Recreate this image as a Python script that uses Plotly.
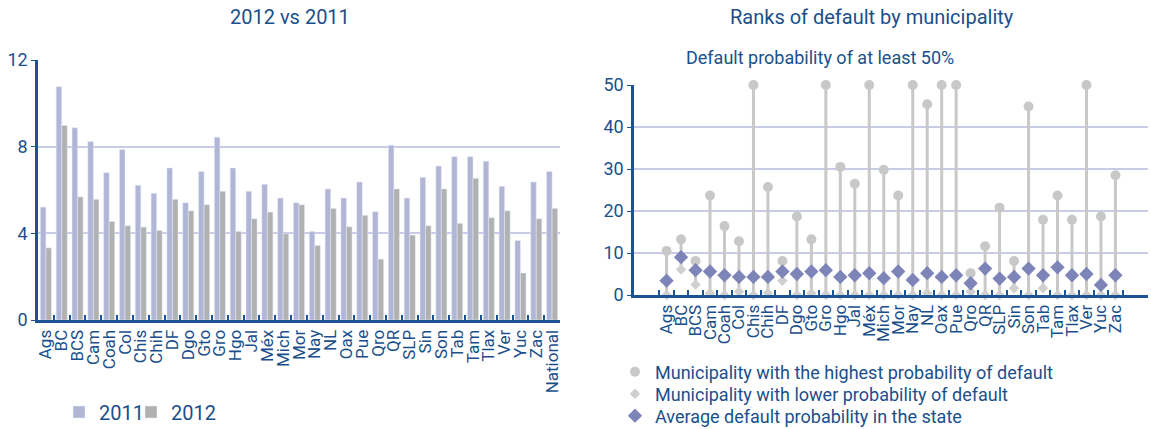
import plotly.graph_objects as go

# left chart: 2012 vs 2011
states_l = ["Ags", "BC", "BCS", "Cam", "Coah", "Col", "Chis", "Chih", "DF", "Dgo", "Gto",
            "Gro", "Hgo", "Jal", "Méx", "Mich", "Mor", "Nay", "NL", "Oax", "Pue", "Qro",
            "QR", "SLP", "Sin", "Son", "Tab", "Tam", "Tlax", "Ver", "Yuc", "Zac", "National"]
v2011 = [5.21, 10.77, 8.87, 8.24, 6.80, 7.87, 6.22, 5.85, 7.02, 5.41, 6.85,
         8.44, 7.02, 5.94, 6.26, 5.63, 5.41, 4.09, 6.05, 5.63, 6.37, 5.00,
         8.07, 5.63, 6.59, 7.11, 7.54, 7.54, 7.33, 6.17, 3.67, 6.37, 6.85]
v2012 = [3.33, 8.98, 5.68, 5.57, 4.55, 4.35, 4.29, 4.13, 5.57, 5.04, 5.32,
         5.94, 4.09, 4.67, 4.98, 3.98, 5.32, 3.44, 5.15, 4.30, 4.83, 2.81,
         6.05, 3.92, 4.35, 6.05, 4.46, 6.54, 4.72, 5.04, 2.17, 4.67, 5.15]
left_ticks = [0, 4, 8, 12]

# right chart: ranks of default
states_r = states_l[:-1]
high = [10.5, 13.25, 8.1, 23.7, 16.4, 12.8, 50, 25.7, 8.1, 18.7, 13.25,
        50, 30.5, 26.5, 50, 29.8, 23.7, 50, 45.4, 50, 50, 5.2,
        11.6, 20.8, 8.1, 44.9, 17.9, 23.7, 17.9, 50, 18.7, 28.5]
low = [0, 6.1, 2.5, 0.4, 0, 0.8, 0, 0.4, 3.4, 0, 0.4,
       0, 0, 0, 0, 0, 0, 0, 0.4, 0, 0, 0.8,
       0, 0, 1.6, 0, 1.6, 0, 0, 0, 0, 0]
avg = [3.4, 9.0, 5.9, 5.6, 4.7, 4.3, 4.3, 4.3, 5.6, 5.0, 5.6,
       5.9, 4.3, 4.7, 5.2, 4.0, 5.6, 3.6, 5.2, 4.3, 4.7, 2.8,
       6.3, 3.9, 4.3, 6.3, 4.7, 6.6, 4.7, 5.0, 2.4, 4.7]
right_ticks = [0, 10, 20, 30, 40, 50]

blue = "#1a4f8b"
axis_blue = "#1d5296"
grid = "#c9cce6"
font = "Roboto"
W, H = 1151, 429

fig = go.Figure()

fig.add_trace(go.Bar(x=states_l, y=v2011, name="2011", marker_color="#b1b5d6",
                     xaxis="x", yaxis="y", legend="legend"))
fig.add_trace(go.Bar(x=states_l, y=v2012, name="2012", marker_color="#b1b1b1",
                     xaxis="x", yaxis="y", legend="legend5"))

# range lines low -> high
lx, ly = [], []
for s, lo, hi in zip(states_r, low, high):
    lx += [s, s, None]
    ly += [lo, hi, None]
fig.add_trace(go.Scatter(x=lx, y=ly, mode="lines", line=dict(color="#c8c8c8", width=3),
                         hoverinfo="none", showlegend=False, xaxis="x2", yaxis="y2"))
fig.add_trace(go.Scatter(x=states_r, y=high, mode="markers", cliponaxis=False,
                         name="Municipality with the highest probability of default",
                         marker=dict(symbol="circle", size=10, color="#c8c8c8"),
                         xaxis="x2", yaxis="y2", legend="legend2"))
fig.add_trace(go.Scatter(x=states_r, y=low, mode="markers", cliponaxis=False,
                         name="Municipality with lower probability of default",
                         marker=dict(symbol="diamond", size=8, color="#cfcfcf"),
                         xaxis="x2", yaxis="y2", legend="legend3"))
fig.add_trace(go.Scatter(x=states_r, y=avg, mode="markers", cliponaxis=False,
                         name="Average default probability in the state",
                         marker=dict(symbol="diamond", size=11, color="#7d84b8"),
                         xaxis="x2", yaxis="y2", legend="legend4"))

# one legend box per entry so entries sit where the original has them
left_leg = dict(orientation="h", y=1 - 412 / H, xanchor="left", yanchor="middle",
                font=dict(size=20, color=blue), itemwidth=30, bgcolor="rgba(0,0,0,0)")
right_leg = dict(orientation="v", x=615 / W, xanchor="left", yanchor="middle",
                 font=dict(size=18, color=blue), itemwidth=30, bgcolor="rgba(0,0,0,0)")

fig.update_layout(
    width=W, height=H,
    margin=dict(l=0, r=0, t=0, b=0, autoexpand=False),
    paper_bgcolor="white", plot_bgcolor="white",
    font=dict(family=font, color=blue),
    barmode="group", bargap=0.3, bargroupgap=0,
    xaxis=dict(domain=[38 / W, 560 / W], anchor="y", type="category", tickangle=-90,
               tickmode="array", tickvals=states_l, ticktext=states_l,
               showline=True, linecolor=axis_blue, linewidth=3, ticks="inside",
               tickson="boundaries", ticklen=5, tickcolor=axis_blue, tickwidth=1.5,
               tickfont=dict(size=17, color=blue), showgrid=False),
    yaxis=dict(domain=[1 - 320 / H, 1 - 60 / H], anchor="x", range=[0, 12], tickvals=left_ticks,
               showline=True, linecolor=axis_blue, linewidth=2.5, ticks="outside",
               ticklen=4, tickcolor=axis_blue, gridcolor=grid, gridwidth=1.5,
               zeroline=False, tickfont=dict(size=18, color=blue)),
    xaxis2=dict(domain=[634 / W, 1148 / W], anchor="y2", type="category", tickangle=-90,
                tickmode="array", tickvals=states_r, ticktext=states_r,
                showline=True, linecolor=axis_blue, linewidth=3, ticks="inside",
                tickson="boundaries", ticklen=5, tickcolor=axis_blue, tickwidth=1.5,
                tickfont=dict(size=17, color=blue), showgrid=False),
    yaxis2=dict(domain=[1 - 295 / H, 1 - 85 / H], anchor="x2", range=[0, 50], tickvals=right_ticks,
                showline=True, linecolor=axis_blue, linewidth=2.5, ticks="outside",
                ticklen=4, tickcolor=axis_blue, gridcolor=grid, gridwidth=1.5,
                zeroline=False, tickfont=dict(size=18, color=blue)),
    legend=dict(left_leg, x=59 / W),
    legend5=dict(left_leg, x=131 / W),
    legend2=dict(right_leg, y=1 - 372 / H),
    legend3=dict(right_leg, y=1 - 394 / H),
    legend4=dict(right_leg, y=1 - 416 / H),
    annotations=[
        dict(text="2012 vs 2011", x=290 / W, y=1 - 17 / H, xref="paper", yref="paper",
             xanchor="center", yanchor="middle", showarrow=False,
             font=dict(size=20, color=blue)),
        dict(text="Ranks of default by municipality", x=872 / W, y=1 - 17 / H, xref="paper",
             yref="paper", xanchor="center", yanchor="middle", showarrow=False,
             font=dict(size=20, color=blue)),
        dict(text="Default probability of at least 50%", x=820 / W, y=1 - 58 / H,
             xref="paper", yref="paper", xanchor="center", yanchor="middle",
             showarrow=False, font=dict(size=18, color=blue)),
        dict(x="Jal", y=50.3, xref="x2", yref="y2", ax=-13, ay=-14, text="",
             showarrow=True, arrowhead=2, arrowsize=1.2, arrowwidth=2,
             arrowcolor="#808080"),
    ],
)

fig.write_html("out.html", config={"displayModeBar": False},
               post_script="document.body.style.margin='0px';")
